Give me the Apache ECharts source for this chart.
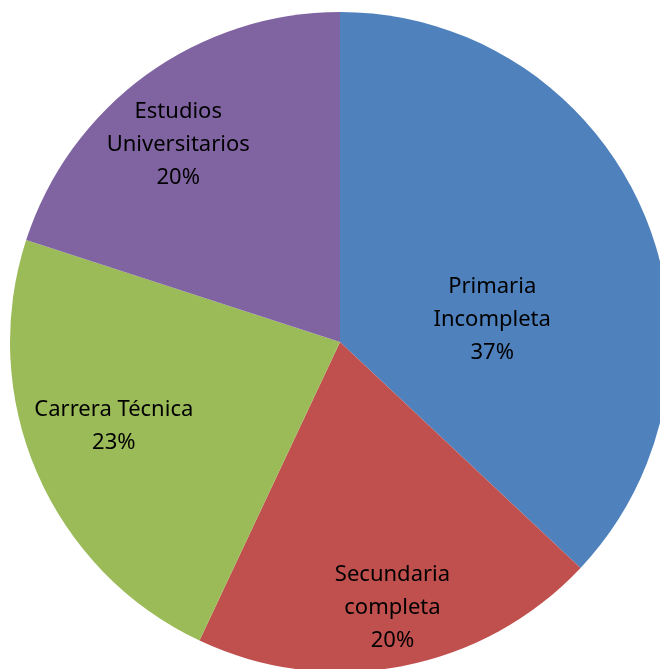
<!DOCTYPE html>
<html>
<head>
<meta charset="utf-8">
<script src="https://cdn.jsdelivr.net/npm/echarts@6/dist/echarts.min.js"></script>
<style>
  html, body { margin: 0; padding: 0; background: #fff; }
  #chart { width: 660px; height: 669px; }
</style>
</head>
<body>
<div id="chart"></div>
<script>
const categories = ["Primaria\nIncompleta", "Secundaria\ncompleta", "Carrera Técnica", "Estudios\nUniversitarios"]
const values = [37, 20, 23, 20]
const colors = ["#4f81bd", "#c0504d", "#9bbb59", "#8064a2"]
// nudges so the labels sit where Excel's best-fit put them
const labelOffsets = [[-2, 44], [21, 101], [-72, 18], [-63, -61]]

const chart = echarts.init(document.getElementById("chart"))

chart.setOption({
  animation: false,
  color: colors,
  series: [
    {
      type: "pie",
      center: [340, 342],
      radius: 330,
      startAngle: 90,
      clockwise: true,
      silent: true,
      itemStyle: {borderWidth: 0},
      label: {
        position: "inside",
        formatter: "{b}\n{d}%",
        color: "#000",
        fontFamily: "Noto Sans",
        fontSize: 22,
        lineHeight: 33,
      },
      labelLine: {show: false},
      data: categories.map((name, i) => ({
        name: name,
        value: values[i],
        label: {offset: labelOffsets[i]},
      })),
    },
  ],
})
</script>
</body>
</html>
